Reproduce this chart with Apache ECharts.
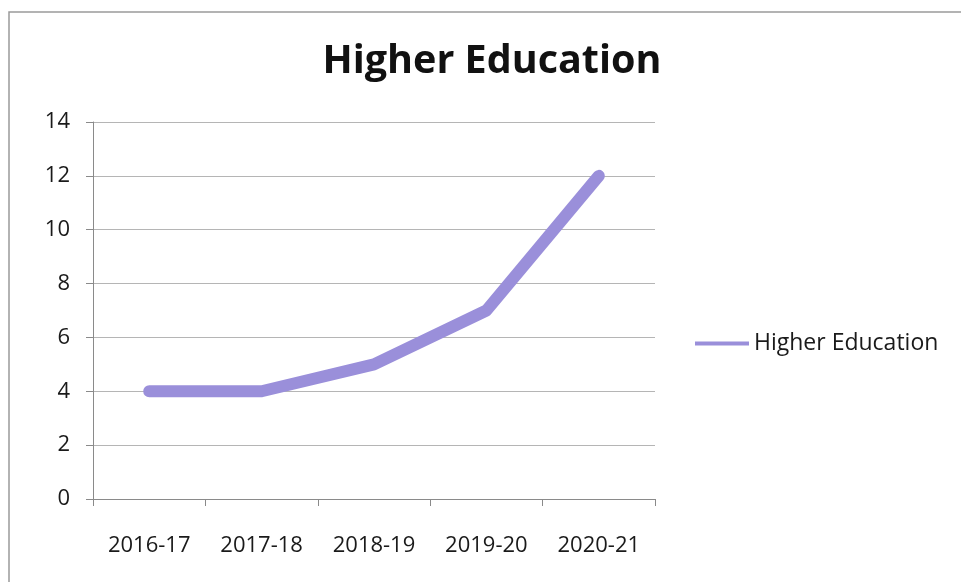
<!DOCTYPE html>
<html>
<head>
<meta charset="utf-8">
<script src="https://cdn.jsdelivr.net/npm/echarts@6/dist/echarts.min.js"></script>
<style>
  html, body { margin: 0; padding: 0; background: #ffffff; }
  #chart { width: 961px; height: 582px; }
</style>
</head>
<body>
<div id="chart"></div>
<script>
// Academic years on the category axis
const years = ['2016-17', '2017-18', '2018-19', '2019-20', '2020-21'];
// Higher education values per year
const higherEducation = [4, 4, 5, 7, 12];
// Value axis range
const yMin = 0;
const yMax = 14;
const yStep = 2;

const font = '"Open Sans", Lato, sans-serif';
const chart = echarts.init(document.getElementById('chart'));

chart.setOption({
  backgroundColor: '#ffffff',
  animation: false,
  title: {
    text: 'Higher Education',
    left: 487,
    top: 37,
    textAlign: 'center',
    textStyle: { fontFamily: font, fontSize: 39.5, fontWeight: 'bold', color: '#111111' }
  },
  graphic: [
    {
      type: 'rect',
      shape: { x: 9, y: 12, width: 980, height: 620 },
      style: { fill: 'none', stroke: '#9a9a9a', lineWidth: 1.5 },
      silent: true
    }
  ],
  legend: {
    left: 690,
    top: 327,
    itemWidth: 54,
    itemHeight: 4,
    itemGap: 4,
    icon: 'rect',
    textStyle: { fontFamily: font, fontSize: 23, color: '#1a1a1a' },
    data: ['Higher Education']
  },
  grid: { left: 93, right: 306, top: 122, bottom: 83 },
  xAxis: {
    type: 'category',
    data: years,
    boundaryGap: true,
    axisLine: { lineStyle: { color: '#8a8a8a', width: 1 } },
    axisTick: { show: true, length: 7, lineStyle: { color: '#8a8a8a' } },
    axisLabel: { fontFamily: font, fontSize: 22, color: '#1a1a1a', margin: 36 },
    splitLine: { show: false }
  },
  yAxis: {
    type: 'value',
    min: yMin,
    max: yMax,
    interval: yStep,
    axisLine: { show: true, lineStyle: { color: '#8a8a8a', width: 1 } },
    axisTick: { show: true, length: 7, lineStyle: { color: '#8a8a8a' } },
    axisLabel: { fontFamily: font, fontSize: 22, color: '#1a1a1a', margin: 23 },
    splitLine: { show: true, lineStyle: { color: '#b5b5b5', width: 1 } }
  },
  series: [
    {
      name: 'Higher Education',
      type: 'line',
      data: higherEducation,
      showSymbol: false,
      symbol: 'none',
      lineStyle: { color: '#9a8fda', width: 12, cap: 'round', join: 'round' },
      itemStyle: { color: '#9a8fda' }
    }
  ]
});
</script>
</body>
</html>
